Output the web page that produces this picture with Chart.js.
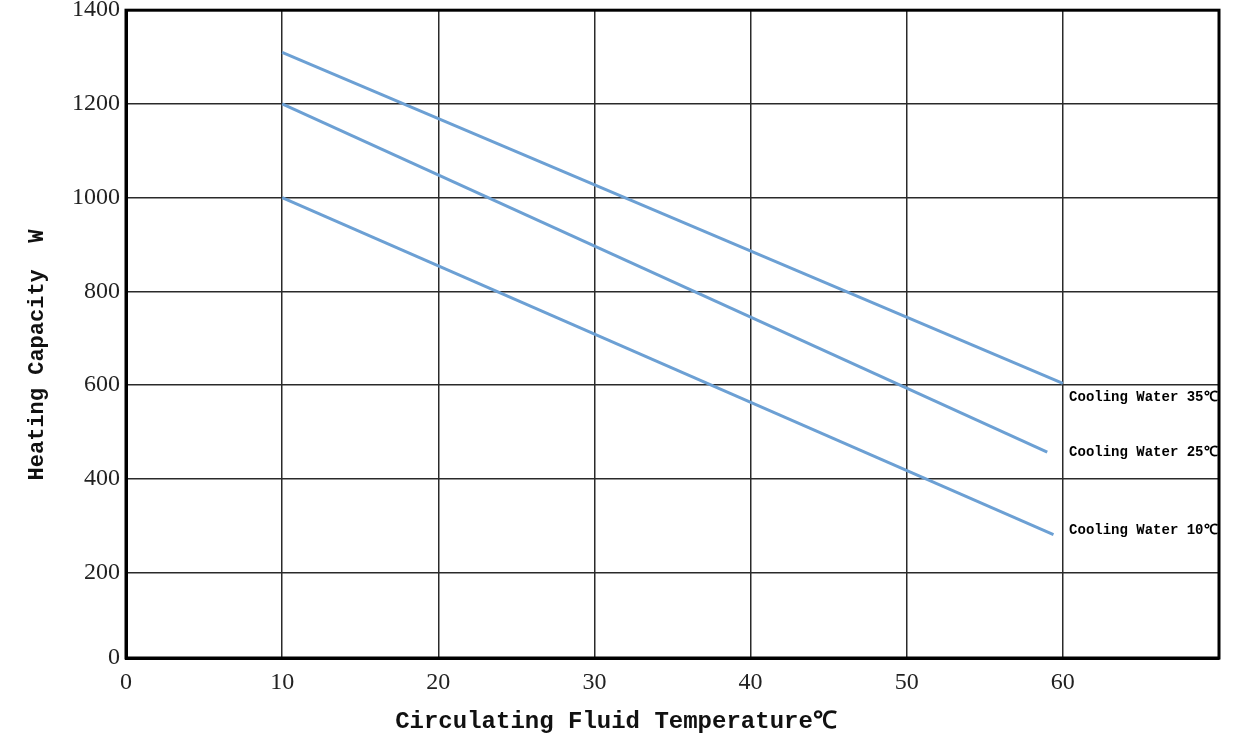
<!DOCTYPE html>
<html>
<head>
<meta charset="utf-8">
<script src="https://cdn.jsdelivr.net/npm/chart.js@4/dist/chart.umd.min.js"></script>
<style>
  body { margin: 0; background: #fff; }
  canvas { display: block; }
</style>
</head>
<body>
<canvas id="heat-chart" width="1234" height="744"></canvas>
<script>
// data
const seriesNames = ['Cooling Water 35℃', 'Cooling Water 25℃', 'Cooling Water 10℃'];
const temp35 = [10, 60];
const heat35 = [1310, 604];
const temp25 = [10, 59];
const heat25 = [1200, 457];
const temp10 = [10, 59.4];
const heat10 = [1000, 281];
const labelY = [574, 456, 290];   // where the end labels sit (in W)
const yTicks = [18, 200, 400, 600, 800, 1000, 1200, 1400];

const lineColor = 'rgba(108, 160, 212, 1)';

function pts(xs, ys) {
    return xs.map((x, i) => ({x: x, y: ys[i]}));
}

const frame = {
    id: 'frame',
    afterDraw(chart) {
        const {ctx, chartArea: a} = chart;
        ctx.save();
        ctx.strokeStyle = '#000';
        ctx.lineWidth = 3;
        ctx.strokeRect(a.left, a.top, a.right - a.left, a.bottom - a.top);
        // end labels
        ctx.font = 'bold 14px "Liberation Mono", monospace';
        ctx.fillStyle = '#000';
        ctx.textBaseline = 'middle';
        const xs = chart.scales.x, ys = chart.scales.y;
        seriesNames.forEach((name, i) => {
            ctx.fillText(name, xs.getPixelForValue(60.4), ys.getPixelForValue(labelY[i]));
        });
        // axis titles (the original sets them off centre)
        ctx.font = 'bold 24px "Liberation Mono", monospace';
        ctx.fillStyle = '#111';
        ctx.textAlign = 'center';
        ctx.fillText('Circulating Fluid Temperature℃', 616, 722);
        ctx.translate(37, 355);
        ctx.rotate(-Math.PI / 2);
        ctx.font = 'bold 22px "Liberation Mono", monospace';
        ctx.fillText('Heating Capacity  W', 0, 0);
        ctx.restore();
    }
};

const ctx = document.querySelector('#heat-chart');
new Chart(ctx, {
    type: 'line',
    data: {
        datasets: [
            {label: seriesNames[0], data: pts(temp35, heat35)},
            {label: seriesNames[1], data: pts(temp25, heat25)},
            {label: seriesNames[2], data: pts(temp10, heat10)}
        ].map(d => Object.assign(d, {
            borderColor: lineColor,
            borderWidth: 3,
            pointRadius: 0,
            tension: 0,
            fill: false
        }))
    },
    options: {
        responsive: false,
        animation: false,
        layout: {padding: {left: 0, right: 15, top: 0, bottom: 0}},
        plugins: {
            legend: {display: false},
            tooltip: {enabled: false}
        },
        scales: {
            x: {
                type: 'linear',
                min: 0,
                max: 70,
                afterBuildTicks(axis) {
                    axis.ticks = [0, 10, 20, 30, 40, 50, 60].map(v => ({value: v}));
                },
                afterFit(axis) { axis.height = 86; },
                grid: {color: '#2a2a2a', lineWidth: 1.5, drawTicks: false},
                border: {color: '#000', width: 3},
                ticks: {
                    color: '#222',
                    padding: 10,
                    font: {family: '"Liberation Serif", serif', size: 24}
                }
            },
            y: {
                min: 18,
                max: 1400,
                afterBuildTicks(axis) {
                    axis.ticks = yTicks.map(v => ({value: v}));
                },
                afterFit(axis) { axis.width = 126; },
                grid: {color: '#2a2a2a', lineWidth: 1.5, drawTicks: false},
                border: {color: '#000', width: 3},
                ticks: {
                    color: '#222',
                    padding: 6,
                    font: {family: '"Liberation Serif", serif', size: 24, lineHeight: 0.35},
                    callback: v => (v < 100 ? '0' : v)
                }
            }
        }
    },
    plugins: [frame]
});
</script>
</body>
</html>
